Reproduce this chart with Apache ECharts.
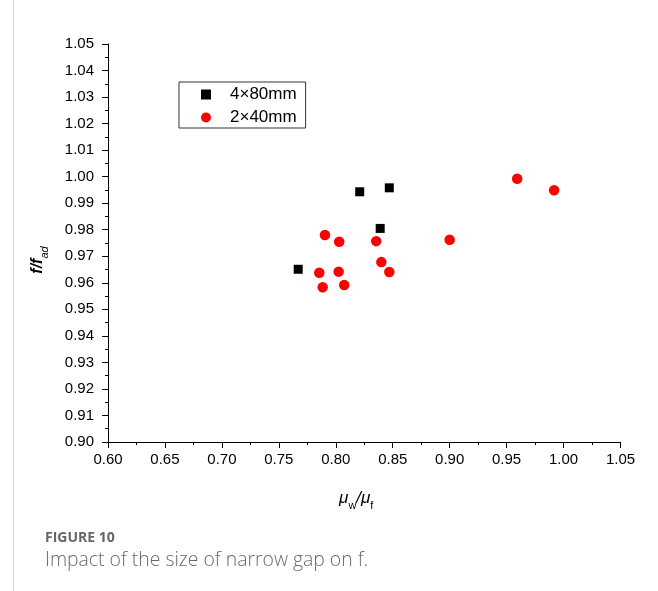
<!DOCTYPE html>
<html>
<head>
<meta charset="utf-8">
<script src="https://cdn.jsdelivr.net/npm/echarts@6/dist/echarts.min.js"></script>
<style>
  html, body { margin: 0; padding: 0; background: #fff; }
  #chart { width: 658px; height: 591px; }
</style>
</head>
<body>
<div id="chart"></div>
<script>
// Friction ratio f/f_ad against viscosity ratio μw/μf for two gap sizes
const seriesNames = ['4×80mm', '2×40mm'];

const gap4x80X = [0.767, 0.821, 0.847, 0.839];
const gap4x80Y = [0.9651, 0.9943, 0.9958, 0.9805];

const gap2x40X = [0.7905, 0.803, 0.8355, 0.840, 0.847, 0.7855, 0.8025, 0.7885, 0.8074, 0.9593, 0.9917, 0.900];
const gap2x40Y = [0.9780, 0.9755, 0.9757, 0.9678, 0.9641, 0.9638, 0.9642, 0.9583, 0.9592, 0.9992, 0.9949, 0.9762];

const xTicks = { min: 0.60, max: 1.05, step: 0.05 };
const yTicks = { min: 0.90, max: 1.05, step: 0.01 };

const pairs = (xs, ys) => xs.map((x, i) => [x, ys[i]]);

const tickFont = { fontFamily: 'Liberation Sans, Arial, sans-serif', fontSize: 15, color: '#000' };

const chart = echarts.init(document.getElementById('chart'), null, { renderer: 'canvas' });

chart.setOption({
  animation: false,
  backgroundColor: '#fff',
  grid: { left: 108, right: 37.5, top: 44, bottom: 149, containLabel: false },
  legend: {
    orient: 'vertical',
    left: 179,
    top: 82,
    itemWidth: 10,
    itemHeight: 10,
    itemGap: 6,
    padding: [4, 9, 2, 22],
    borderColor: '#333',
    borderWidth: 1,
    data: [
      { name: seriesNames[0], icon: 'rect' },
      { name: seriesNames[1], icon: 'circle' }
    ],
    textStyle: {
      fontFamily: 'Liberation Sans, Arial, sans-serif',
      fontSize: 17,
      lineHeight: 14,
      color: '#000',
      padding: [0, 0, 0, 14]
    }
  },
  xAxis: {
    type: 'value',
    min: xTicks.min,
    max: xTicks.max,
    interval: xTicks.step,
    splitLine: { show: false },
    axisLine: { onZero: false, lineStyle: { color: '#000', width: 1 } },
    axisTick: { inside: false, length: 6, lineStyle: { color: '#000' } },
    minorTick: { show: true, splitNumber: 2, length: 3, lineStyle: { color: '#000' } },
    axisLabel: Object.assign({ margin: 10, formatter: v => v.toFixed(2) }, tickFont),
    name: '{i|μ}{s|w}{i|/μ}{s|f}',
    nameLocation: 'middle',
    nameGap: 48,
    nameTextStyle: {
      padding: [0, 16, 0, 0],
      rich: {
        i: { fontFamily: 'Liberation Sans, Arial, sans-serif', fontStyle: 'italic', fontSize: 17, color: '#000', verticalAlign: 'bottom', padding: [0, 0, 4, 0] },
        s: { fontFamily: 'Liberation Sans, Arial, sans-serif', fontSize: 11, color: '#000', verticalAlign: 'bottom' }
      }
    }
  },
  yAxis: {
    type: 'value',
    min: yTicks.min,
    max: yTicks.max,
    interval: yTicks.step,
    splitLine: { show: false },
    axisLine: { onZero: false, lineStyle: { color: '#000', width: 1 } },
    axisTick: { inside: false, length: 6, lineStyle: { color: '#000' } },
    minorTick: { show: true, splitNumber: 2, length: 3, lineStyle: { color: '#000' } },
    axisLabel: Object.assign({ margin: 14, formatter: v => v.toFixed(2) }, tickFont),
    name: '{i|f/f}{s|ad}',
    nameLocation: 'middle',
    nameGap: 58,
    nameTextStyle: {
      padding: [0, 34, 0, 0],
      rich: {
        i: { fontFamily: 'Liberation Sans, Arial, sans-serif', fontStyle: 'italic', fontWeight: 'bold', fontSize: 16, color: '#000', verticalAlign: 'bottom', padding: [0, 0, 4, 0] },
        s: { fontFamily: 'Liberation Sans, Arial, sans-serif', fontStyle: 'italic', fontSize: 11, color: '#000', verticalAlign: 'bottom' }
      }
    }
  },
  series: [
    {
      name: seriesNames[0],
      type: 'scatter',
      symbol: 'rect',
      symbolSize: 9,
      itemStyle: { color: '#000', opacity: 1 },
      data: pairs(gap4x80X, gap4x80Y)
    },
    {
      name: seriesNames[1],
      type: 'scatter',
      symbol: 'circle',
      symbolSize: 10.5,
      itemStyle: { color: '#ff0000', opacity: 1 },
      data: pairs(gap2x40X, gap2x40Y)
    }
  ],
  graphic: [
    {
      type: 'rect',
      left: 13,
      top: 0,
      shape: { width: 1, height: 591 },
      style: { fill: '#d9d9d9' },
      silent: true
    },
    {
      type: 'text',
      left: 45,
      top: 531,
      style: {
        text: 'FIGURE 10',
        font: 'bold 14px "Open Sans", "Noto Sans", sans-serif',
        fill: '#666'
      }
    },
    {
      type: 'text',
      left: 45,
      top: 551,
      style: {
        text: 'Impact of the size of narrow gap on f.',
        font: '300 19.4px "Open Sans", "Noto Sans", sans-serif',
        fill: '#6a6a6a'
      }
    }
  ]
});
</script>
</body>
</html>
